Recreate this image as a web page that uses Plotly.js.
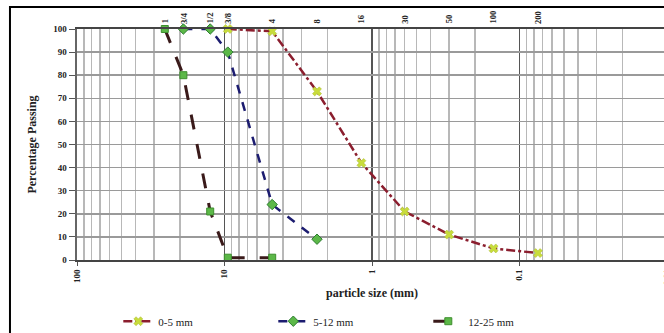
<!DOCTYPE html>
<html><head><meta charset="utf-8">
<script src="https://cdn.plot.ly/plotly-3.0.1.min.js"></script>
<style>html,body{margin:0;padding:0;overflow:hidden;background:#fff;width:664px;height:333px}#chart{width:690px;height:333px}</style>
</head><body><div id="chart"></div>
<script>
var sieveSizes = [25.4, 19, 12.5, 9.5, 4.75, 2.36, 1.18, 0.6, 0.3, 0.15, 0.075];
var sieveLabels = ['1', '3/4', '1/2', '3/8', '4', '8', '16', '30', '50', '100', '200'];

var fineSize = [9.5, 4.75, 2.36, 1.18, 0.6, 0.3, 0.15, 0.075];
var finePass = [100, 99, 73, 42, 21, 11, 5, 3];

var medSize = [19, 12.5, 9.5, 4.75, 2.36];
var medPass = [100, 100, 90, 24, 9];

var coarseSize = [25.4, 19, 12.5, 9.5, 4.75];
var coarsePass = [100, 80, 21, 1, 1];

var xTickVals = [100, 10, 1, 0.1, 0.01];
var xTickText = ['100', '10', '1', '0.1', '0.01'];

var minorVals = [];
[0.01, 0.1, 1, 10].forEach(function (d) { for (var k = 2; k <= 9; k++) minorVals.push(+(d * k).toPrecision(3)); });

var serif = 'Liberation Serif, Times New Roman, serif';

var traces = [
  { x: fineSize, y: finePass, name: '0-5 mm', type: 'scatter', mode: 'lines+markers', cliponaxis: false,
    line: { color: '#8B1E2E', width: 2.5, dash: 'dashdot' },
    marker: { symbol: 'x', size: 8, color: '#C8DC3C', line: { color: '#A8B830', width: 0.5 } } },
  { x: medSize, y: medPass, name: '5-12 mm', type: 'scatter', mode: 'lines+markers', cliponaxis: false,
    line: { color: '#1C1C70', width: 2.5, dash: 'dash' },
    marker: { symbol: 'diamond', size: 8, color: '#5CB848', line: { color: '#2E7D32', width: 1 } } },
  { x: coarseSize, y: coarsePass, name: '12-25 mm', type: 'scatter', mode: 'lines+markers', cliponaxis: false,
    line: { color: '#3A1A1A', width: 3, dash: 'longdash' },
    marker: { symbol: 'square', size: 7, color: '#5CB848', line: { color: '#3E8E2E', width: 1 } } }
];

var annotations = sieveSizes.map(function (s, i) {
  return { x: Math.log10(s), y: 1.015, xref: 'x', yref: 'paper', yanchor: 'bottom', xanchor: 'center',
    text: sieveLabels[i], showarrow: false, textangle: -90,
    font: { family: serif, size: 8.5, color: '#222', weight: 'bold' } };
});

var layout = {
  width: 690, height: 333,
  margin: { l: 77, r: 23, t: 29, b: 73, autoexpand: false },
  paper_bgcolor: '#fff', plot_bgcolor: '#fff',
  showlegend: true,
  legend: { orientation: 'h', x: 0.07, xanchor: 'left', y: -0.265, yanchor: 'middle',
    font: { family: serif, size: 11, color: '#222' }, entrywidth: 110, entrywidthmode: 'pixels',
    bgcolor: 'rgba(0,0,0,0)', tracegroupgap: 0 },
  xaxis: {
    type: 'log', range: [2, -2], autorange: false, automargin: false,
    tickmode: 'array', tickvals: xTickVals, ticktext: xTickText, tickangle: -90,
    tickfont: { family: serif, size: 9, color: '#222', weight: 'bold' },
    ticks: 'outside', ticklen: 4, tickcolor: '#555',
    showgrid: true, gridcolor: '#555', gridwidth: 1.5,
    minor: { tickmode: 'array', tickvals: minorVals, showgrid: true, gridcolor: '#b8b8b8', gridwidth: 1.5, ticks: '' },
    showline: true, linecolor: '#444', linewidth: 2, mirror: true, zeroline: false,
    title: { text: 'particle size (mm)', font: { family: serif, size: 12, color: '#222', weight: 'bold' }, standoff: 4 }
  },
  yaxis: {
    range: [0, 100], autorange: false, tickmode: 'linear', tick0: 0, dtick: 10, automargin: false,
    tickfont: { family: serif, size: 9, color: '#222', weight: 'bold' },
    ticks: 'outside', ticklen: 6, tickcolor: '#555',
    showgrid: true, gridcolor: '#9a9a9a', gridwidth: 1.5,
    showline: true, linecolor: '#666', linewidth: 2.5, zeroline: false,
    title: { text: 'Percentage Passing', font: { family: serif, size: 12, color: '#222', weight: 'bold' }, standoff: 14 }
  },
  annotations: annotations,
  shapes: [
    { type: 'rect', xref: 'paper', yref: 'paper', x0: -0.1136, x1: 1.2, y0: -0.4, y1: 1.095,
      line: { color: '#000', width: 2 }, fillcolor: 'rgba(0,0,0,0)', layer: 'below' }
  ]
};

Plotly.newPlot('chart', traces, layout, { displayModeBar: false, staticPlot: true });
</script></body></html>
